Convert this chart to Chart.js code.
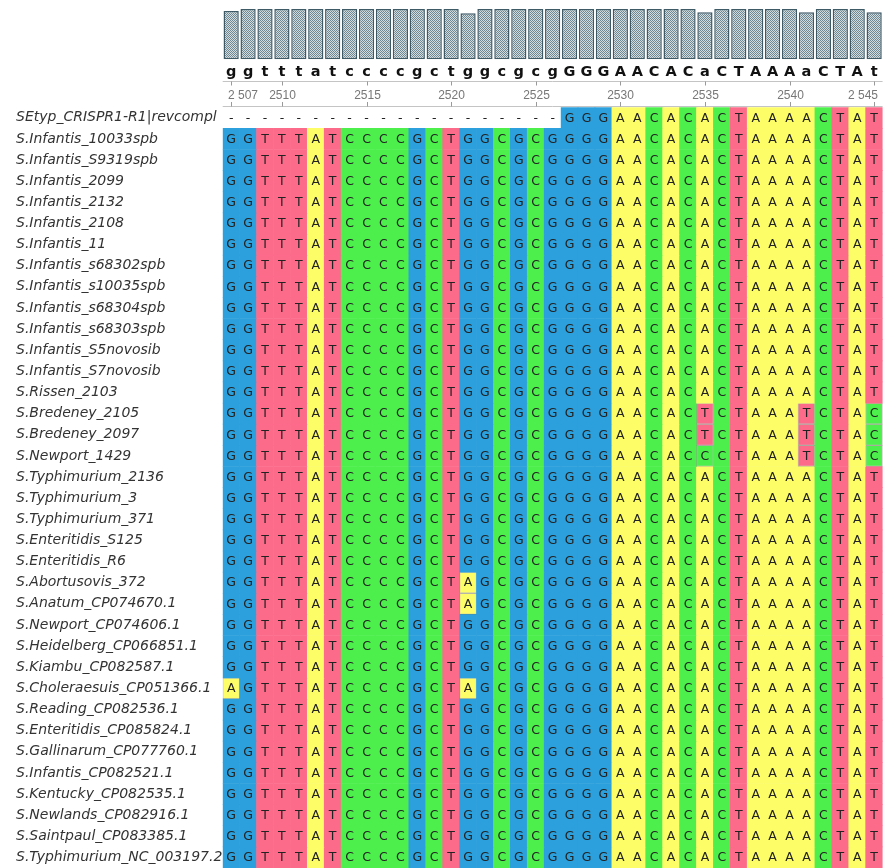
<!DOCTYPE html>
<html>
<head>
<meta charset="utf-8">
<script src="https://cdn.jsdelivr.net/npm/chart.js@4.4.1/dist/chart.umd.min.js"></script>
<style>
  html, body { margin: 0; padding: 0; background: #fff; overflow: hidden; }
  #wrap { position: relative; width: 887px; height: 868px; }
  #alignChart, #histChart { position: absolute; left: 0; top: 0; }
</style>
</head>
<body>
<div id="wrap">
  <canvas id="alignChart" width="887" height="868"></canvas>
  <canvas id="histChart" width="887" height="62"></canvas>
</div>
<script>
// Alignment columns (positions 2507 - 2545)
const positions = [2507, 2508, 2509, 2510, 2511, 2512, 2513, 2514, 2515, 2516, 2517, 2518, 2519,
    2520, 2521, 2522, 2523, 2524, 2525, 2526, 2527, 2528, 2529, 2530, 2531, 2532, 2533,
    2534, 2535, 2536, 2537, 2538, 2539, 2540, 2541, 2542, 2543, 2544, 2545];

// Consensus line above the alignment
const consensus = 'ggtttatccccgctggcgcgGGGAACACaCTAAAaCTAt';

// Conservation histogram (% of sequences agreeing)
const conservation = [96, 100, 100, 100, 100, 100, 100, 100, 100, 100,
    100, 100, 100, 100, 91.5, 100, 100, 100, 100, 100,
    100, 100, 100, 100, 100, 100, 100, 100, 93.5, 100,
    100, 100, 100, 100, 93.5, 100, 100, 100, 93.5];

// Ruler ticks and their labels
const rulerTicks = [2507, 2510, 2515, 2520, 2525, 2530, 2535, 2540, 2545];
const rulerLabels = ['2 507', '2510', '2515', '2520', '2525', '2530', '2535', '2540', '2 545'];

// Sequence names
const rowNames = [
    'SEtyp_CRISPR1-R1|revcompl', 'S.Infantis_10033spb', 'S.Infantis_S9319spb', 'S.Infantis_2099',
    'S.Infantis_2132', 'S.Infantis_2108', 'S.Infantis_11', 'S.Infantis_s68302spb',
    'S.Infantis_s10035spb', 'S.Infantis_s68304spb', 'S.Infantis_s68303spb', 'S.Infantis_S5novosib',
    'S.Infantis_S7novosib', 'S.Rissen_2103', 'S.Bredeney_2105', 'S.Bredeney_2097',
    'S.Newport_1429', 'S.Typhimurium_2136', 'S.Typhimurium_3', 'S.Typhimurium_371',
    'S.Enteritidis_S125', 'S.Enteritidis_R6', 'S.Abortusovis_372', 'S.Anatum_CP074670.1',
    'S.Newport_CP074606.1', 'S.Heidelberg_CP066851.1', 'S.Kiambu_CP082587.1', 'S.Choleraesuis_CP051366.1',
    'S.Reading_CP082536.1', 'S.Enteritidis_CP085824.1', 'S.Gallinarum_CP077760.1', 'S.Infantis_CP082521.1',
    'S.Kentucky_CP082535.1', 'S.Newlands_CP082916.1', 'S.Saintpaul_CP083385.1', 'S.Typhimurium_NC_003197.2'
];

// Aligned sequences, one string per row
const sequences = [
    '--------------------GGGAACACACTAAAACTAT',
    'GGTTTATCCCCGCTGGCGCGGGGAACACACTAAAACTAT',
    'GGTTTATCCCCGCTGGCGCGGGGAACACACTAAAACTAT',
    'GGTTTATCCCCGCTGGCGCGGGGAACACACTAAAACTAT',
    'GGTTTATCCCCGCTGGCGCGGGGAACACACTAAAACTAT',
    'GGTTTATCCCCGCTGGCGCGGGGAACACACTAAAACTAT',
    'GGTTTATCCCCGCTGGCGCGGGGAACACACTAAAACTAT',
    'GGTTTATCCCCGCTGGCGCGGGGAACACACTAAAACTAT',
    'GGTTTATCCCCGCTGGCGCGGGGAACACACTAAAACTAT',
    'GGTTTATCCCCGCTGGCGCGGGGAACACACTAAAACTAT',
    'GGTTTATCCCCGCTGGCGCGGGGAACACACTAAAACTAT',
    'GGTTTATCCCCGCTGGCGCGGGGAACACACTAAAACTAT',
    'GGTTTATCCCCGCTGGCGCGGGGAACACACTAAAACTAT',
    'GGTTTATCCCCGCTGGCGCGGGGAACACACTAAAACTAT',
    'GGTTTATCCCCGCTGGCGCGGGGAACACTCTAAATCTAC',
    'GGTTTATCCCCGCTGGCGCGGGGAACACTCTAAATCTAC',
    'GGTTTATCCCCGCTGGCGCGGGGAACACCCTAAATCTAC',
    'GGTTTATCCCCGCTGGCGCGGGGAACACACTAAAACTAT',
    'GGTTTATCCCCGCTGGCGCGGGGAACACACTAAAACTAT',
    'GGTTTATCCCCGCTGGCGCGGGGAACACACTAAAACTAT',
    'GGTTTATCCCCGCTGGCGCGGGGAACACACTAAAACTAT',
    'GGTTTATCCCCGCTGGCGCGGGGAACACACTAAAACTAT',
    'GGTTTATCCCCGCTAGCGCGGGGAACACACTAAAACTAT',
    'GGTTTATCCCCGCTAGCGCGGGGAACACACTAAAACTAT',
    'GGTTTATCCCCGCTGGCGCGGGGAACACACTAAAACTAT',
    'GGTTTATCCCCGCTGGCGCGGGGAACACACTAAAACTAT',
    'GGTTTATCCCCGCTGGCGCGGGGAACACACTAAAACTAT',
    'AGTTTATCCCCGCTAGCGCGGGGAACACACTAAAACTAT',
    'GGTTTATCCCCGCTGGCGCGGGGAACACACTAAAACTAT',
    'GGTTTATCCCCGCTGGCGCGGGGAACACACTAAAACTAT',
    'GGTTTATCCCCGCTGGCGCGGGGAACACACTAAAACTAT',
    'GGTTTATCCCCGCTGGCGCGGGGAACACACTAAAACTAT',
    'GGTTTATCCCCGCTGGCGCGGGGAACACACTAAAACTAT',
    'GGTTTATCCCCGCTGGCGCGGGGAACACACTAAAACTAT',
    'GGTTTATCCCCGCTGGCGCGGGGAACACACTAAAACTAT',
    'GGTTTATCCCCGCTGGCGCGGGGAACACACTAAAACTAT'
];

// Nucleotide colours
const baseColors = { A: '#fdfd68', C: '#4def4d', G: '#2ca0dd', T: '#fd6b8b', '-': 'rgba(0,0,0,0)' };

const AREA_LEFT = 222.7;
const AREA_RIGHT_PAD = 4.4;

// One floating-bar dataset per sequence row (grouped:false so they overlap in each column)
const datasets = sequences.map((seq, r) => {
    const letters = seq.split('');
    const isVariant = letters.map((ch, c) => ch !== '-' && r > 0 && ch !== consensus[c].toUpperCase());
    return {
        label: rowNames[r],
        data: letters.map(() => [r - 0.5, r + 0.5]),
        backgroundColor: letters.map(ch => baseColors[ch]),
        borderColor: 'rgba(110,110,90,0.45)',
        borderWidth: isVariant.map(v => v ? 1 : 0),
        borderSkipped: false,
        grouped: false,
        barPercentage: 1,
        categoryPercentage: 1,
        letters: letters
    };
});

// Draws the letters in cells, the consensus line and the ruler
const alignmentText = {
    id: 'alignmentText',
    afterDatasetsDraw(chart) {
        const ctx = chart.ctx;
        const x = chart.scales.x;
        const y = chart.scales.y;
        const area = chart.chartArea;
        ctx.save();

        // letters inside the cells
        ctx.font = '12.5px "DejaVu Sans"';
        ctx.textAlign = 'center';
        ctx.textBaseline = 'middle';
        ctx.fillStyle = '#222';
        chart.data.datasets.forEach((ds, r) => {
            const yp = y.getPixelForValue(r);
            ds.letters.forEach((ch, c) => {
                ctx.fillText(ch, x.getPixelForValue(c), yp + 0.5);
            });
        });

        // consensus letters
        ctx.font = 'bold 14.5px "DejaVu Sans"';
        ctx.textBaseline = 'alphabetic';
        ctx.fillStyle = '#111';
        consensus.split('').forEach((ch, c) => {
            ctx.fillText(ch, x.getPixelForValue(c), 76);
        });

        // ruler lines
        ctx.strokeStyle = '#c4c4c4';
        ctx.lineWidth = 1;
        ctx.beginPath();
        ctx.moveTo(area.left, 81.5); ctx.lineTo(area.right, 81.5);
        ctx.moveTo(area.left, 106.5); ctx.lineTo(area.right, 106.5);
        ctx.stroke();

        // ruler ticks and labels
        ctx.strokeStyle = '#999';
        ctx.font = '12px "Liberation Sans"';
        ctx.fillStyle = '#777';
        ctx.textBaseline = 'middle';
        rulerTicks.forEach((pos, i) => {
            const xp = Math.round(x.getPixelForValue(positions.indexOf(pos))) + 0.5;
            ctx.beginPath();
            ctx.moveTo(xp, 81.5); ctx.lineTo(xp, 85.5);
            ctx.moveTo(xp, 106.5); ctx.lineTo(xp, 102);
            ctx.stroke();
            if (i === 0) {
                ctx.textAlign = 'left';
                ctx.fillText(rulerLabels[i], xp - 3.5, 95.5);
            } else if (i === rulerTicks.length - 1) {
                ctx.textAlign = 'right';
                ctx.fillText(rulerLabels[i], xp + 3.5, 95.5);
            } else {
                ctx.textAlign = 'center';
                ctx.fillText(rulerLabels[i], xp, 95.5);
            }
        });
        ctx.restore();
    }
};

new Chart(document.getElementById('alignChart').getContext('2d'), {
    type: 'bar',
    data: { labels: positions, datasets: datasets },
    options: {
        responsive: false,
        maintainAspectRatio: false,
        animation: false,
        layout: { padding: { left: 16, right: AREA_RIGHT_PAD, top: 107.2, bottom: 0 } },
        plugins: { legend: { display: false }, tooltip: { enabled: false } },
        scales: {
            x: { display: false },
            y: {
                type: 'linear',
                reverse: true,
                min: -0.5,
                max: rowNames.length - 0.5,
                grid: { display: false },
                border: { display: false },
                afterBuildTicks: axis => { axis.ticks = rowNames.map((n, i) => ({ value: i })); },
                afterFit: axis => {
                    axis.width = AREA_LEFT - 16;
                    axis.paddingTop = 0;
                    axis.paddingBottom = 0;
                },
                ticks: {
                    autoSkip: false,
                    crossAlign: 'far',
                    color: '#333',
                    font: { family: '"DejaVu Sans"', size: 14, style: 'italic' },
                    callback: v => rowNames[v]
                }
            }
        }
    },
    plugins: [alignmentText]
});

// Hatched fill for the conservation histogram
function makeHatch(ctx) {
    const c = document.createElement('canvas');
    c.width = 2; c.height = 2;
    const g = c.getContext('2d');
    g.fillStyle = '#d3dcdf';
    g.fillRect(0, 0, 2, 2);
    g.fillStyle = '#6e8792';
    g.fillRect(0, 0, 1, 1);
    g.fillRect(1, 1, 1, 1);
    return ctx.createPattern(c, 'repeat');
}

const histCtx = document.getElementById('histChart').getContext('2d');
new Chart(histCtx, {
    type: 'bar',
    data: {
        labels: positions,
        datasets: [{
            data: conservation,
            backgroundColor: makeHatch(histCtx),
            borderColor: '#3e5a67',
            borderWidth: 1.5,
            borderSkipped: false,
            barPercentage: 0.9,
            categoryPercentage: 1
        }]
    },
    options: {
        responsive: false,
        maintainAspectRatio: false,
        animation: false,
        layout: { padding: { left: AREA_LEFT, right: AREA_RIGHT_PAD, top: 9, bottom: 2.7 } },
        plugins: { legend: { display: false }, tooltip: { enabled: false } },
        scales: {
            x: { display: false },
            y: { display: false, min: 0, max: 100 }
        }
    }
});
</script>
</body>
</html>
